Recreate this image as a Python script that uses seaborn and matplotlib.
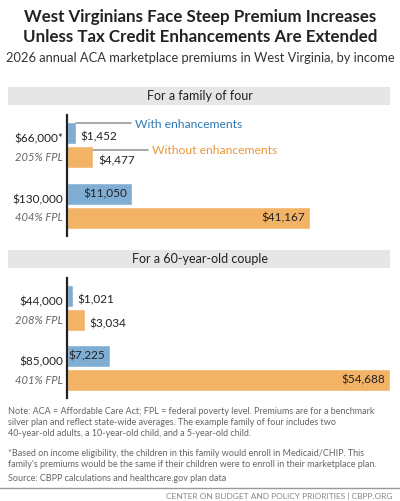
import pandas as pd
import seaborn as sns
import matplotlib.pyplot as plt
from matplotlib.patches import Rectangle
from matplotlib.lines import Line2D

# data
series = ["With enhancements", "Without enhancements"]
fam_income = ["$66,000*", "$130,000"]
fam_fpl = ["205% FPL", "404% FPL"]
fam_with = [1452, 11050]
fam_without = [4477, 41167]
cpl_income = ["$44,000", "$85,000"]
cpl_fpl = ["208% FPL", "401% FPL"]
cpl_with = [1021, 7225]
cpl_without = [3034, 54688]

blue, orange = "#80ADD4", "#F2B366"
blue_txt, orange_txt = "#2F78B4", "#E9973A"
gray = "#666666"

sns.set_style("white")
plt.rcParams['font.family'] = ['Lato', 'DejaVu Sans']

fig = plt.figure(figsize=(4, 5.01), dpi=100)
H = 501.0

def fy(px):
    return 1 - px / H

fig.text(0.5, fy(17), "West Virginians Face Steep Premium Increases", ha="center", va="center",
         fontsize=12.2, fontweight="bold", color="#222222")
fig.text(0.5, fy(37), "Unless Tax Credit Enhancements Are Extended", ha="center", va="center",
         fontsize=12.2, fontweight="bold", color="#222222")
fig.text(0.5, fy(58), "2026 annual ACA marketplace premiums in West Virginia, by income", ha="center",
         va="center", fontsize=9.3, color="#333333")


def panel(top_px, bot_px, head_px, title, incomes, fpls, w, wo):
    fig.add_artist(Rectangle((8 / 400, fy(head_px + 18)), 382 / 400, 18 / H, transform=fig.transFigure,
                             color="#E6E6E6", lw=0))
    fig.text(0.5, fy(head_px + 9), title, ha="center", va="center", fontsize=9, color="#222222")
    ax = fig.add_axes([67 / 400, fy(bot_px), 325 / 400, (bot_px - top_px) / H])
    df = pd.DataFrame({"income": incomes * 2, "value": w + wo,
                       "series": [series[0]] * 2 + [series[1]] * 2})
    sns.barplot(data=df, y="income", x="value", hue="series", orient="h", palette=[blue, orange],
                width=0.8, gap=0.1, ax=ax, legend=False, saturation=1)
    ax.set_xlim(0, 55000)
    ax.set_ylim(1.5, -0.5)
    ax.set_xlabel("")
    ax.set_ylabel("")
    ax.set_xticks([])
    ax.set_yticks([])
    for s in ["top", "right", "bottom"]:
        ax.spines[s].set_visible(False)
    ax.spines["left"].set_linewidth(1.6)
    ax.spines["left"].set_color("#222222")
    for i in range(2):
        for j, v in enumerate([w[i], wo[i]]):
            y = i + (j - 0.5) * 0.4
            lab = f"${v:,}"
            if v > 6000:
                ax.text(v - 800, y, lab, ha="right", va="center", fontsize=8.5, color="#222222")
            else:
                ax.text(v + 800, y + 0.06, lab, ha="left", va="center", fontsize=8.5, color="#222222")
        ax.text(-0.012, i - 0.1, incomes[i], transform=ax.get_yaxis_transform(), ha="right",
                va="center", fontsize=8.5, color="#222222")
        ax.text(-0.012, i + 0.2, fpls[i], transform=ax.get_yaxis_transform(), ha="right",
                va="center", fontsize=8, color=gray, style="italic")
    return ax


panel(115, 236, 87, "For a family of four", fam_income, fam_fpl, fam_with, fam_without)
panel(278, 398, 250, "For a 60-year-old couple", cpl_income, cpl_fpl, cpl_with, cpl_without)

# inline legend
fig.add_artist(Line2D([76 / 400, 131 / 400], [fy(123), fy(123)], color="#999999", lw=1.2))
fig.text(135 / 400, fy(124), series[0], ha="left", va="center", fontsize=8.7, color=blue_txt)
fig.add_artist(Line2D([93 / 400, 148 / 400], [fy(150), fy(150)], color="#999999", lw=1.2))
fig.text(152 / 400, fy(151), series[1], ha="left", va="center", fontsize=8.7, color=orange_txt)

notes = ("Note: ACA = Affordable Care Act; FPL = federal poverty level. Premiums are for a benchmark\n"
         "silver plan and reflect state-wide averages. The example family of four includes two\n"
         "40-year-old adults, a 10-year-old child, and a 5-year-old child.")
fig.text(8 / 400, fy(407), notes, ha="left", va="top", fontsize=6.5, color=gray, linespacing=1.3)
fig.text(8 / 400, fy(449), "*Based on income eligibility, the children in this family would enroll in Medicaid/CHIP. This\n"
         "family's premiums would be the same if their children were to enroll in their marketplace plan.",
         ha="left", va="top", fontsize=6.5, color=gray, linespacing=1.3)
fig.text(8 / 400, fy(474), "Source: CBPP calculations and healthcare.gov plan data", ha="left", va="top",
         fontsize=6.5, color=gray)
fig.add_artist(Line2D([0, 1], [fy(488), fy(488)], color="#999999", lw=1))
fig.text(392 / 400, fy(496), "CENTER ON BUDGET AND POLICY PRIORITIES | CBPP.ORG", ha="right", va="center",
         fontsize=6, color="#888888")

fig.savefig("out.png", dpi=100)
